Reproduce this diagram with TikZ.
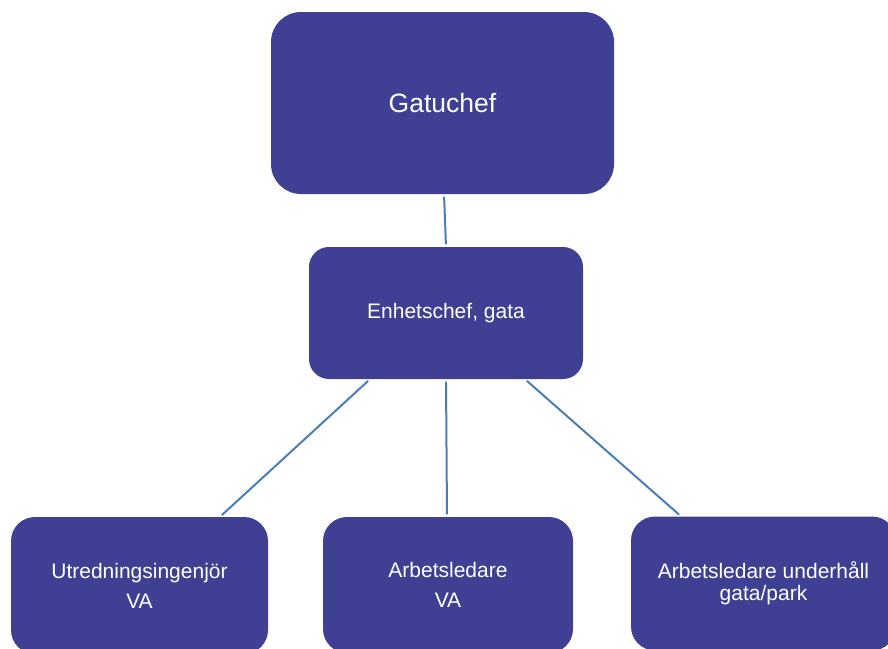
\documentclass[tikz,border=0pt]{standalone}
\usepackage{fontspec}
\setmainfont{Liberation Sans}
\usetikzlibrary{positioning, calc}
\definecolor{boxblue}{RGB}{63,64,148}
\definecolor{linkblue}{RGB}{74,126,187}

\begin{document}
\begin{tikzpicture}[x=1pt, y=-1pt,
    unit/.style={rectangle, fill=boxblue, text=white, align=center, inner sep=0pt},
    link/.style={draw=linkblue, line width=2pt, shorten <=2.5pt, shorten >=2.5pt}]
            \useasboundingbox (0,0) rectangle (888,648);
            \clip (0,0) rectangle (888,648);
            \draw (442.5,103) node[unit, rounded corners=30pt, minimum width=343pt, minimum height=182pt,
                font=\fontsize{26.5}{30}\selectfont] (chef) {Gatuchef};
            \draw (446,313) node[unit, rounded corners=20pt, minimum width=274pt, minimum height=132pt,
                font=\fontsize{21}{24}\selectfont] (enhet) {Enhetschef, gata};
            \draw (139.5,585.5) node[unit, rounded corners=24pt, minimum width=257pt, minimum height=137pt,
                font=\fontsize{21}{30}\selectfont] (utred) {Utredningsingenjör\\VA};
            \draw (448,585) node[unit, rounded corners=24pt, minimum width=250pt, minimum height=136pt,
                font=\fontsize{21}{30}\selectfont] (arbva) {Arbetsledare\\VA};
            \draw (763.5,583.5) node[unit, rounded corners=24pt, minimum width=265pt, minimum height=134pt,
                font=\fontsize{21}{22}\selectfont] (arbgp) {Arbetsledare underhåll\\gata/park};
            \path[link]
            ([xshift=1.5pt]chef.south) edge (enhet.north)
            ([xshift=-76pt]enhet.south) edge ([xshift=80.5pt]utred.north)
            (enhet.south) edge ([xshift=-1pt]arbva.north)
            ([xshift=79pt]enhet.south) edge ([xshift=-82.5pt]arbgp.north);
        \end{tikzpicture}
\end{document}
